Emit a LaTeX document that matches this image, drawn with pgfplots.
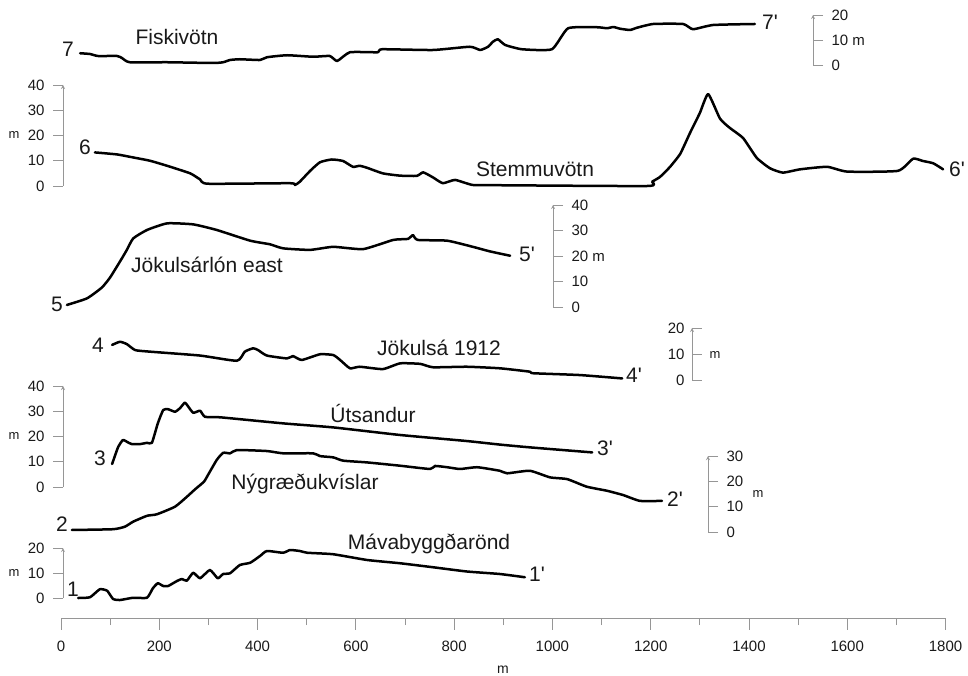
\documentclass[border=0pt]{standalone}
\usepackage{pgfplots}
\pgfplotsset{compat=1.18}
\usepackage{fontspec}
\setmainfont{Liberation Sans}
\newfontfamily\lsans{Liberation Sans}
\definecolor{axgray}{RGB}{150,150,150}
\definecolor{txt}{RGB}{25,25,25}
\newcommand\tf{\fontsize{15}{15}\selectfont}
\newcommand\lf{\fontsize{21}{21}\selectfont}
\newcommand\mf{\fontsize{13}{13}\selectfont}
\newcommand\pr{{\lsans'}}
\pgfplotsset{
  prof/.style={scale only axis, x=0.4914pt, y=#1pt, xmin=0, xmax=1800, ymin=0, ymax=10, hide axis, clip=false, anchor=south west},
  pline/.style={black, line width=2.5pt, line join=round, line cap=round, mark=none, smooth, tension=0.3},
  bar/.style={scale only axis, x=1pt, y=#1pt, xmin=0, xmax=1, ymin=0, axis x line=none, xtick=\empty,
     axis line style={-, axgray, line width=0.8pt}, major tick length=10pt,
     tick style={axgray, line width=0.8pt},
     ytick distance=10, clip=false,
     yticklabel style={font=\tf, text=txt},
     /pgf/number format/assume math mode=true},
  barL/.style={bar=#1, axis y line=left, tick align=outside, anchor=south west, yticklabel style={xshift=-5pt}},
  barR/.style={bar=#1, axis y line=right, tick align=outside, anchor=south east, yticklabel style={xshift=5pt}},
}
\begin{document}
\begin{tikzpicture}
\useasboundingbox (0,0) rectangle (968pt,675pt);
% ---------- profile 7 ----------
\begin{axis}[prof=2.5, at={(61pt,610pt)}]
\addplot[pline] coordinates {(39,4.7)(59,4.4)(75,3.6)(114,3.6)(124,2.8)(140,1.1)(216,1.1)(309,0.8)(330,1.1)(344,2.0)(364,2.3)(405,2.0)(419,3.1)(460,3.9)(513,3.3)(547,3.6)(562,1.6)(588,5.1)(645,5.1)(653,6.3)(757,6.0)(832,7.3)(853,6.0)(869,7.3)(879,9.3)(889,10.3)(904,8.0)(938,6.3)(999,6.3)(1032,14.7)(1091,15.1)(1111,14.7)(1124,15.2)(1138,14.5)(1158,14.0)(1172,14.9)(1205,16.4)(1266,16.4)(1286,14.3)(1327,16.0)(1412,16.4)};
\end{axis}
\begin{axis}[barR=2.5, ymax=20, at={(813pt,610pt)}, ytick={0,10,20}, yticklabels={0,10 m,20}]
\end{axis}
% ---------- profile 6 ----------
\begin{axis}[prof=2.525, at={(61pt,489pt)}]
\addplot[pline] coordinates {(69,13.3)(114,12.5)(147,11.3)(181,10)(216,8)(263,5)(283,2.6)(299,0.9)(466,1.1)(476,0.4)(486,1.7)(507,6)(527,9.4)(551,10.5)(574,9.9)(594,7.6)(608,8)(623,7.2)(655,5)(690,4.1)(724,4)(737,5.4)(757,3.4)(777,1.1)(802,2.4)(838,0.4)(893,0.3)(1193,0)(1203,1.7)(1219,3.6)(1239,7.5)(1260,12.7)(1280,21)(1300,28.9)(1317,36.4)(1341,26.7)(1361,23)(1388,19)(1416,11.1)(1443,7)(1469,5.3)(1504,6.6)(1559,7.6)(1600,5.7)(1703,6)(1734,10.8)(1754,9.9)(1775,9)(1795,6.6)};
\end{axis}
\begin{axis}[barL=2.525, ymax=40, at={(63pt,489pt)}]
\end{axis}
% ---------- profile 5 ----------
\begin{axis}[prof=2.55, at={(61pt,368pt)}]
\addplot[pline] coordinates {(12,0.8)(53,3.4)(83,7.6)(100,11.6)(124,19.1)(134,22.4)(147,26.9)(175,30.2)(216,32.8)(269,32.4)(317,30.2)(385,26)(425,24.6)(452,23)(507,22.4)(554,23.6)(615,22.7)(676,26.3)(706,26.7)(716,28.2)(726,26.3)(786,26)(838,23.6)(873,21.8)(914,20.1)};
\end{axis}
\begin{axis}[barR=2.55, ymax=40, at={(553pt,368pt)}, ytick={0,10,20,30,40}, yticklabels={0,10,20 m,30,40}]
\end{axis}
% ---------- profile 4 ----------
\begin{axis}[prof=2.6, at={(61pt,295pt)}]
\addplot[pline] coordinates {(104,13.5)(120,14.7)(134,13.8)(151,11.5)(181,10.9)(283,9.4)(358,7.4)(374,10.9)(391,12.2)(401,11.5)(419,9.4)(460,8.3)(472,9.2)(490,7.7)(527,9.9)(554,9.6)(568,7.7)(588,4.5)(608,5.1)(655,4.2)(690,6.4)(731,6.2)(757,4.9)(826,5.1)(893,4.5)(954,3.2)(961,2.6)(1056,1.9)(1142,0.6)};
\end{axis}
\begin{axis}[bar=2.6, ymax=20, axis y line=left, tick align=inside, anchor=south west, at={(692pt,295pt)}, yticklabel style={xshift=-4pt}]
\end{axis}
% ---------- profile 3 ----------
\begin{axis}[prof=2.525, at={(61pt,188pt)}]
\addplot[pline] coordinates {(104,9.1)(116,15.7)(126,18.6)(136,17.7)(144,17)(161,17)(175,17.5)(185,17.5)(197,25.2)(208,30.5)(218,30.8)(232,29.8)(242,31.2)(252,33.4)(258,32.1)(269,29.4)(283,30.2)(293,27.8)(324,27.6)(452,25.2)(554,23.6)(690,20.6)(826,18.2)(893,16.8)(954,15.7)(1081,13.7)};
\end{axis}
\begin{axis}[barL=2.525, ymax=40, at={(63pt,188pt)}]
\end{axis}
% ---------- profile 2 ----------
\begin{axis}[prof=2.53, at={(61pt,143pt)}]
\addplot[pline] coordinates {(22,0.8)(106,1.1)(130,2.1)(147,4.1)(175,6.4)(195,7)(232,10)(256,13.9)(273,16.9)(291,19.9)(299,22.5)(317,28.5)(330,31.3)(344,31.1)(358,32.4)(419,32)(452,31.1)(513,31.1)(527,30)(554,29.5)(574,28.2)(623,27.5)(690,26.2)(751,24.9)(761,26.1)(786,25.6)(812,24.9)(847,25.6)(893,24.2)(908,23.2)(954,24.2)(995,21.6)(1030,20.9)(1070,17.9)(1111,16.3)(1144,14.6)(1178,12.3)(1223,12.3)};
\end{axis}
\begin{axis}[barR=2.53, ymax=30, at={(708pt,143pt)}]
\end{axis}
% ---------- profile 1 ----------
\begin{axis}[prof=2.5, at={(61pt,77pt)}]
\addplot[pline] coordinates {(35,0)(59,0.3)(79,3.5)(94,2.9)(106,-0.4)(120,-0.8)(147,0.1)(175,0.1)(187,3.9)(197,5.9)(208,4.8)(218,4.8)(236,6.8)(246,7.6)(256,6.9)(269,10.1)(283,7.9)(303,11.2)(319,7.9)(330,9.6)(344,9.9)(364,13.2)(385,14.1)(405,16.8)(419,18.8)(452,18.1)(466,19.2)(486,18.8)(501,18.1)(554,17.5)(623,15.2)(690,13.9)(757,12.3)(826,10.6)(893,9.6)(944,8.3)};
\end{axis}
\begin{axis}[barL=2.5, ymax=20, at={(63pt,77pt)}]
\end{axis}
% ---------- bottom distance axis ----------
\begin{axis}[scale only axis, x=0.4914pt, y=1pt, xmin=0, xmax=1800, ymin=0, ymax=1,
  anchor=south west, at={(61pt,57pt)},
  axis x line=bottom, axis y line=none, ytick=\empty,
  axis line style={-, axgray, line width=0.8pt},
  tick style={axgray, line width=0.8pt},
  xtick distance=200, minor x tick num=1, tick align=outside,
  major tick length=12pt, minor tick length=7pt,
  scaled x ticks=false, /pgf/number format/1000 sep={},
  /pgf/number format/assume math mode=true,
  xticklabel style={font=\tf, text=txt, yshift=-7pt}]
\end{axis}
% ---------- text labels ----------
\begin{scope}[every node/.style={font=\lf, text=txt, anchor=base, inner sep=0pt}]
\node at (68pt,618pt) {7};
\node at (177pt,630.5pt) {Fiskivötn};
\node at (770pt,645.5pt) {7\pr};
\node at (85pt,520pt) {6};
\node at (535pt,498pt) {Stemmuvötn};
\node at (957pt,498pt) {6\pr};
\node at (57pt,363pt) {5};
\node at (207pt,402pt) {Jökulsárlón east};
\node at (527pt,413pt) {5\pr};
\node at (98pt,322pt) {4};
\node at (439pt,319pt) {Jökulsá 1912};
\node at (634pt,292.3pt) {4\pr};
\node at (100pt,210pt) {3};
\node at (373pt,252pt) {Útsandur};
\node at (605pt,219.3pt) {3\pr};
\node at (305pt,185.7pt) {Nýgræðukvíslar};
\node at (62pt,143.3pt) {2};
\node at (675pt,168.3pt) {2\pr};
\node at (73pt,79pt) {1};
\node at (429pt,125.7pt) {Mávabyggðarönd};
\node at (537pt,94pt) {1\pr};
\end{scope}
\begin{scope}[every node/.style={font=\mf, text=txt, inner sep=0pt}]
\node at (14pt,539.5pt) {m};
\node at (14pt,238.5pt) {m};
\node at (14pt,102pt) {m};
\node at (715pt,320pt) {m};
\node at (758pt,181pt) {m};
\node[font=\fontsize{14}{14}\selectfont, anchor=base] at (503pt,2pt) {m};
\end{scope}
\end{tikzpicture}
\end{document}
